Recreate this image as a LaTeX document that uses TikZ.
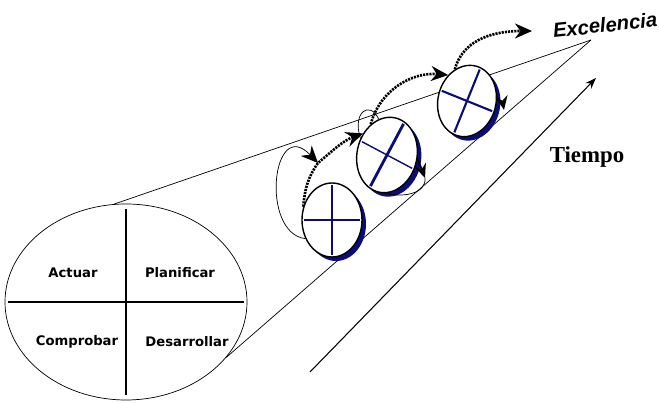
\documentclass[tikz,border=0pt]{standalone}
\usepackage{tikz}
\usepackage{fontspec}
\newfontfamily\labelfont{DejaVu Sans}
\newfontfamily\goalfont{Liberation Sans}
\newfontfamily\timefont{Liberation Serif}
\definecolor{navyblue}{RGB}{12,12,120}
\usetikzlibrary{positioning, arrows.meta, shapes.geometric, shadows}

\begin{document}
\begin{tikzpicture}[
        quarter/.style={font=\labelfont\bfseries\fontsize{7.5}{9}\selectfont},
        disk/.style={ellipse, draw, thick, fill=white, inner sep=0pt, drop shadow={fill=navyblue, opacity=1, shadow xshift=0.8mm, shadow yshift=-0.8mm}},
        barthick/.style={navyblue, line width=1.6pt, shorten <=1.5pt, shorten >=1.5pt},
        barthin/.style={navyblue, line width=0.8pt, shorten <=1.5pt, shorten >=1.5pt},
        spinarrow/.style={line width=1.5pt, dash pattern=on 1.2pt off 0.6pt, -{Stealth[length=3.4mm, width=3mm]}},
        orbitline/.style={thin},
        arrow/.style={-{Stealth[length=2.8mm, width=2.4mm]}, line width=1.1pt}
    ]
        \useasboundingbox (0,0) rectangle (13.18,8.06);

        % PDCA cycle
        \node[ellipse, draw, minimum width=4.84cm, minimum height=3.92cm] (cycle) at (2.52,2.02) {};
        \draw[line width=1.5pt] ([xshift=2pt]cycle.west) -- ([xshift=-2pt]cycle.east);
        \draw[line width=1.5pt] ([yshift=-3pt]cycle.north) -- ([yshift=3pt]cycle.south);
        \node[quarter] (act) at (1.46,2.60) {Actuar};
        \node[quarter] (plan) at (3.60,2.60) {Planificar};
        \node[quarter] (check) at (1.54,1.22) {Comprobar};
        \node[quarter] (do) at (3.74,1.22) {Desarrollar};

        % Cone towards excellence
        \coordinate (apex) at (11.82,7.26);
        \draw (cycle.97) -- (apex);
        \draw (cycle.-29) -- (apex);

        % Time axis
        \coordinate (t0) at (6.20,0.62);
        \coordinate (t1) at (11.92,6.50);
        \draw[-{Stealth[length=2.2mm, width=1.6mm]}, semithick] (t0) -- (t1);
        \node[font=\timefont\bfseries\fontsize{13}{15}\selectfont] (time) at (11.74,4.92) {Tiempo};
        \node[font=\goalfont\bfseries\itshape\fontsize{11.5}{13}\selectfont, rotate=6] (goal) at (12.10,7.56) {Excelencia};

        % Turning cycles
        \node[disk, minimum width=1.20cm, minimum height=1.48cm] (d1) at (6.64,3.66) {};
        \node[disk, minimum width=1.20cm, minimum height=1.52cm, rotate=-12] (d2) at (7.74,4.96) {};
        \node[disk, minimum width=1.16cm, minimum height=1.44cm, rotate=-14] (d3) at (9.34,6.04) {};

        \draw[barthick] (d1.west) -- (d1.east);
        \draw[barthin] (d1.north) -- (d1.south);
        \draw[barthick] (d2.74) -- (d2.254);
        \draw[barthin] (d2.164) -- (d2.-16);
        \draw[barthick, line width=1.2pt] (d3.82) -- (d3.262);
        \draw[barthick, line width=1.2pt] (d3.172) -- (d3.-8);

        % Paths between the cycles
        \coordinate (k1) at (6.36,4.80);
        \coordinate (k2) at (8.50,4.50);
        \coordinate (k3) at (10.08,5.86);
        \coordinate (top) at (10.64,7.44);

        \draw[orbitline, -{Stealth[length=3.4mm, width=3mm]}] (d1.215) .. controls (5.20,3.40) and (5.44,5.76) .. (k1);
        \draw[spinarrow] (d1.155) to[out=85, in=235] (k1) to[out=40, in=200] (d2.150);
        \draw[spinarrow] (d2.130) to[out=75, in=175] (d3.140);
        \draw[spinarrow] (d3.125) to[out=75, in=180] (top);

        \draw[orbitline] (d2.160) .. controls (7.04,5.82) and (7.40,6.06) .. (d2.115);
        \draw[orbitline] (d2.-80) to[out=-15, in=-85] (k2);
        \draw[arrow] (d2.5) to[out=-70, in=110] (k2);
        \draw[arrow] (d3.20) to[out=-75, in=100] (k3);
    \end{tikzpicture}
\end{document}
